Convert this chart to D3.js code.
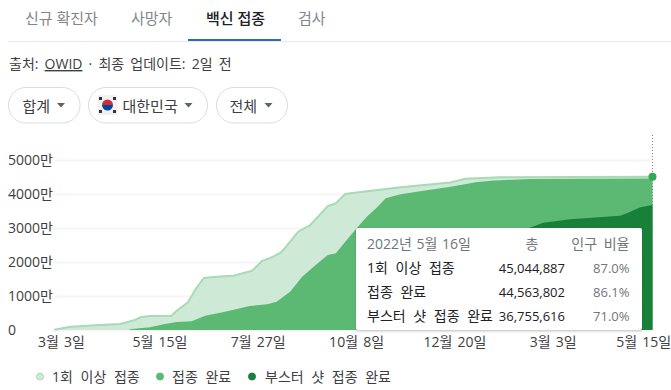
<!DOCTYPE html>
<html>
<head>
<meta charset="utf-8">
<script src="https://cdn.jsdelivr.net/npm/d3@7"></script>
<style>
  html, body { margin: 0; padding: 0; background: #fff; overflow: hidden; }
  svg { display: block; }
  text { font-family: "Open Sans", "Noto Sans CJK KR", sans-serif; }
</style>
</head>
<body>
<svg id="chart" width="671" height="390"></svg>
<script>
// header text
const tabs = ["신규 확진자", "사망자", "백신 접종", "검사"];
const tabX = [25, 131, 206, 298];
const filters = ["합계", "대한민국", "전체"];

// values are in units of 만 (10,000 people)
const firstDates = ["2021-02-26","2021-03-10","2021-04-01","2021-04-16","2021-04-27","2021-05-01","2021-05-08","2021-05-24","2021-05-27","2021-06-05","2021-06-11","2021-06-17","2021-06-29","2021-07-09","2021-07-23","2021-07-30","2021-08-07","2021-08-13","2021-08-16","2021-08-26","2021-09-04","2021-09-17","2021-09-23","2021-09-30","2021-10-04","2021-11-10","2021-12-17","2021-12-28","2022-01-23","2022-05-16"];
const firstValues = [10,97,147,176,294,374,412,421,539,804,1206,1529,1573,1597,1744,2029,2147,2273,2403,2891,3088,3647,3726,4000,4020,4196,4340,4450,4490,4504];

const secondDates = ["2021-04-23","2021-05-08","2021-05-19","2021-05-28","2021-06-08","2021-06-18","2021-07-01","2021-07-14","2021-07-21","2021-08-03","2021-08-10","2021-08-20","2021-08-29","2021-09-08","2021-09-17","2021-09-23","2021-09-30","2021-10-09","2021-10-16","2021-10-24","2021-10-30","2021-11-10","2021-11-22","2021-12-17","2022-01-05","2022-01-16","2022-02-14","2022-05-16"];
const secondValues = [21,79,176,235,256,420,520,638,706,756,832,1126,1568,1912,2206,2256,2597,3020,3332,3626,3873,3991,4067,4215,4344,4391,4441,4456];

// the stretch behind the tooltip is a guess
const boosterDates = ["2021-10-20","2021-11-20","2021-12-15","2022-01-05","2022-02-14","2022-02-24","2022-03-16","2022-04-22","2022-04-27","2022-05-07","2022-05-16"];
const boosterValues = [0,100,600,1500,3009,3156,3256,3362,3432,3609,3676];

const yTicks = [0, 1000, 2000, 3000, 4000, 5000];
const xTickDates = ["2021-03-03","2021-05-15","2021-07-27","2021-10-08","2021-12-20","2022-03-03","2022-05-15"];
const xTickLabels = ["3월 3일","5월 15일","7월 27일","10월 8일","12월 20일","3월 3일","5월 15일"];

const seriesNames = ["1회 이상 접종", "접종 완료", "부스터 샷 접종 완료"];
const seriesTotals = ["45,044,887", "44,563,802", "36,755,616"];
const seriesShares = ["87.0%", "86.1%", "71.0%"];

const parse = d3.timeParse("%Y-%m-%d");
const svg = d3.select("#chart");
const ink = "#202124", grey = "#70757a";

// tabs
svg.selectAll(".tab").data(tabs).enter().append("text")
  .attr("class", "tab")
  .attr("x", (d, i) => tabX[i])
  .attr("y", 24)
  .attr("font-size", 15)
  .attr("fill", (d, i) => i == 2 ? ink : "#80868b")
  .attr("font-weight", (d, i) => i == 2 ? 500 : 400)
  .text(d => d);
svg.append("line").attr("x1", 8).attr("x2", 671).attr("y1", 41.5).attr("y2", 41.5).attr("stroke", "#e8eaed");
svg.append("rect").attr("x", 188).attr("y", 39).attr("width", 93).attr("height", 2).attr("fill", "#2f6cb5");

// source line
const src = svg.append("text").attr("x", 9).attr("y", 69).attr("font-size", 14).attr("word-spacing", 2.5).attr("fill", "#3c4043");
src.append("tspan").text("출처: ");
src.append("tspan").attr("text-decoration", "underline").text("OWID");
src.append("tspan").text(" · 최종 업데이트: 2일 전");

// filter pills
const pills = [[8.5, 71.5], [88.5, 119], [216.5, 71]];
const textOffset = [14, 34, 13];
filters.forEach((f, i) => {
  const [px, pw] = pills[i];
  const g = svg.append("g").attr("transform", "translate(" + px + ",87.5)");
  g.append("rect").attr("width", pw).attr("height", 35.5).attr("rx", 17.5).attr("fill", "#fff").attr("stroke", "#dadce0");
  g.append("text").attr("x", textOffset[i]).attr("y", 24).attr("font-size", 15).attr("fill", "#3c4043").text(f);
  g.append("path").attr("d", "M" + (pw - 23) + " 15.5h8l-4 4.5z").attr("fill", "#5f6368");
  if (i == 1) {
    g.append("rect").attr("x", 9).attr("y", 7.5).attr("width", 20).attr("height", 20).attr("rx", 2).attr("fill", "#f1f1f1");
    g.append("path").attr("d", "M13.5 17.5a5.5 5.5 0 0 1 11 0z").attr("fill", "#cd2e3a");
    g.append("path").attr("d", "M13.5 17.5a5.5 5.5 0 0 0 11 0z").attr("fill", "#0047a0");
    [[12, 11], [26, 11], [12, 24], [26, 24]].forEach(p => {
      g.append("rect").attr("x", p[0] - 1.5).attr("y", p[1] - 1.5).attr("width", 3).attr("height", 3).attr("fill", "#333");
    });
  }
});

// chart
const x = d3.scaleTime().domain([parse("2021-03-03"), parse("2022-05-16")]).range([61, 652.5]);
const y = d3.scaleLinear().domain([0, 5000]).range([330, 160]);

const yAxis = svg.append("g").attr("transform", "translate(53,0)")
  .call(d3.axisLeft(y).tickValues(yTicks).tickSize(-599).tickFormat(d => d == 0 ? "0" : d + "만"));
yAxis.select(".domain").remove();
yAxis.selectAll("line").attr("stroke", "#f6f6f6").attr("stroke-width", 2);
yAxis.selectAll("text").attr("font-size", 14).attr("fill", "#3c4043").attr("text-anchor", "start").attr("x", -45);

const xAxis = svg.append("g").attr("transform", "translate(0,330)")
  .call(d3.axisBottom(x).tickValues(xTickDates.map(parse)).tickSize(0).tickPadding(7)
    .tickFormat((d, i) => xTickLabels[i]));
xAxis.select(".domain").remove();
xAxis.selectAll("text").attr("font-size", 14).attr("word-spacing", 1.5).attr("fill", "#3c4043");
// last label would run past the right edge
xAxis.selectAll("text").filter((d, i) => i == xTickLabels.length - 1).attr("dx", -8);

const area = d3.area().x(d => x(d[0])).y0(y(0)).y1(d => y(d[1]));
const line = d3.line().x(d => x(d[0])).y(d => y(d[1]));
const zip = (ds, vs) => ds.map((d, i) => [parse(d), vs[i]]);

const first = zip(firstDates, firstValues);
svg.append("path").attr("d", area(first)).attr("fill", "#ceead6");
svg.append("path").attr("d", line(first)).attr("fill", "none").attr("stroke", "#a8dab5").attr("stroke-width", 2);
svg.append("path").attr("d", area(zip(secondDates, secondValues))).attr("fill", "#5bb974");
svg.append("path").attr("d", area(zip(boosterDates, boosterValues))).attr("fill", "#188038");

// hover marker
const endX = x(parse("2022-05-16"));
svg.append("line").attr("x1", endX).attr("x2", endX).attr("y1", 135).attr("y2", 330)
  .attr("stroke", "#80868b").attr("stroke-dasharray", "1,2");
svg.append("circle").attr("cx", endX).attr("cy", y(4504)).attr("r", 4).attr("fill", "#34a853");

// tooltip
const shadow = svg.append("defs").append("filter").attr("id", "shadow")
  .attr("x", "-5%").attr("y", "-10%").attr("width", "110%").attr("height", "120%");
shadow.append("feDropShadow").attr("dx", 0).attr("dy", 1).attr("stdDeviation", 1.5).attr("flood-color", "#3c4043").attr("flood-opacity", 0.3);
const tip = svg.append("g").attr("transform", "translate(356,228)");
tip.append("rect").attr("width", 286).attr("height", 102).attr("rx", 2).attr("fill", "#fff").attr("filter", "url(#shadow)");
tip.append("text").attr("x", 11).attr("y", 21).attr("font-size", 14).attr("word-spacing", 1).attr("fill", grey).text("2022년 5월 16일");
tip.append("text").attr("x", 176).attr("y", 21).attr("text-anchor", "middle").attr("font-size", 14).attr("fill", grey).text("총");
tip.append("text").attr("x", 273.5).attr("y", 21).attr("text-anchor", "end").attr("font-size", 14).attr("word-spacing", 3).attr("fill", grey).text("인구 비율");
seriesNames.forEach((name, i) => {
  const ty = 45 + i * 24;
  tip.append("text").attr("x", 11).attr("y", ty).attr("font-size", 14).attr("word-spacing", 4).attr("fill", ink).text(name);
  tip.append("text").attr("x", 209).attr("y", ty).attr("text-anchor", "end").attr("font-size", 13).attr("fill", ink).text(seriesTotals[i]);
  tip.append("text").attr("x", 273.5).attr("y", ty).attr("text-anchor", "end").attr("font-size", 13).attr("fill", grey).text(seriesShares[i]);
});

// legend
const legendX = [40, 160, 252];
const legendFill = ["#ceead6", "#5bb974", "#188038"];
const legendStroke = ["#a8dab5", "#5bb974", "#188038"];
seriesNames.forEach((name, i) => {
  svg.append("circle").attr("cx", legendX[i]).attr("cy", 376.5).attr("r", 3.5)
    .attr("fill", legendFill[i]).attr("stroke", legendStroke[i]).attr("stroke-width", 1);
  svg.append("text").attr("x", legendX[i] + (i == 2 ? 13 : 12)).attr("y", 381.5).attr("font-size", 14).attr("word-spacing", 4).attr("fill", "#3c4043").text(name);
});
</script>
</body>
</html>
